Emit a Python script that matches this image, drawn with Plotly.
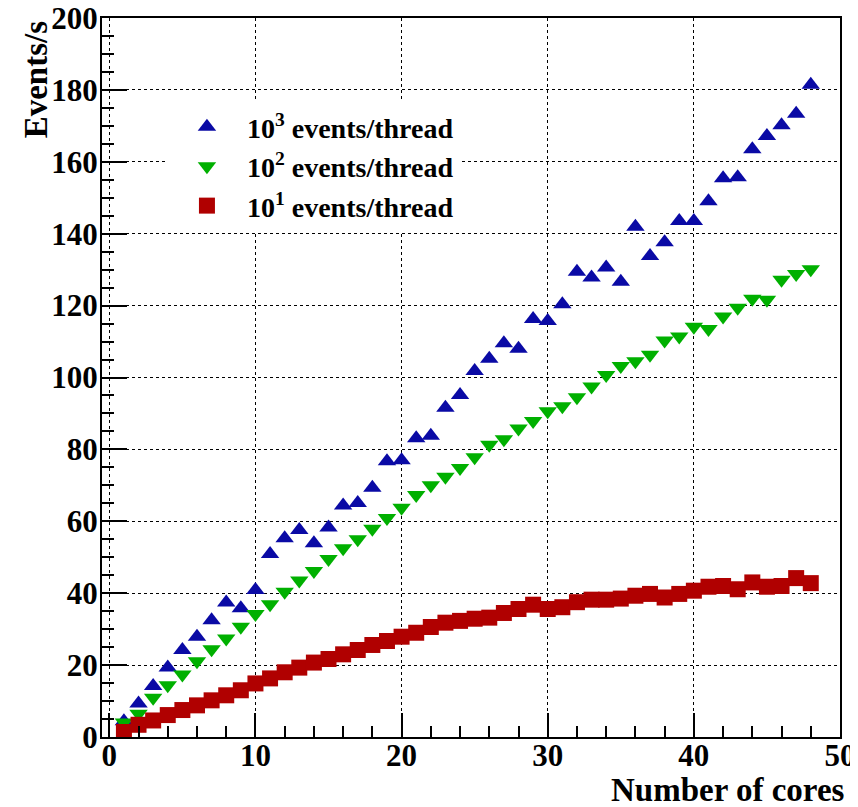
import plotly.graph_objects as go

cores = list(range(1, 49))

ev_1000 = [4.4, 9.3, 14.2, 19.3, 24.2, 27.9, 32.5, 37.4, 35.8, 40.9,
           50.9, 55.3, 57.6, 53.9, 58.3, 64.4, 65.1, 69.3, 76.7, 77.0,
           83.1, 83.8, 91.6, 95.1, 101.8, 105.2, 109.5, 108.0, 116.3, 115.7,
           120.4, 129.4, 127.8, 130.6, 126.6, 141.9, 133.8, 137.6, 143.5, 143.5,
           149.0, 155.4, 155.7, 163.5, 167.2, 170.2, 173.4, 181.4]

ev_100 = [4.0, 6.5, 10.9, 14.4, 17.4, 21.1, 24.4, 27.4, 30.7, 34.2,
          36.9, 40.4, 43.5, 46.2, 49.5, 52.5, 55.0, 57.9, 60.9, 63.8,
          67.3, 70.0, 72.4, 74.8, 77.8, 81.3, 82.8, 85.8, 87.9, 90.6,
          92.0, 94.5, 97.5, 100.7, 103.2, 104.5, 106.3, 110.3, 111.4, 114.1,
          113.5, 117.0, 119.4, 121.9, 121.6, 127.2, 128.8, 130.1]

ev_10 = [1.4, 3.4, 4.6, 6.1, 7.5, 8.8, 10.2, 11.6, 13.0, 14.9,
         16.3, 18.0, 19.3, 20.7, 21.7, 23.0, 24.2, 25.6, 26.7, 27.9,
         29.0, 30.6, 31.8, 32.3, 32.9, 33.2, 34.5, 35.6, 36.8, 35.6,
         36.1, 37.5, 38.2, 38.2, 38.5, 39.3, 39.8, 38.8, 39.8, 40.7,
         41.8, 42.0, 41.1, 43.0, 41.8, 42.0, 44.2, 42.8]

labels = ["10<sup>3</sup> events/thread", "10<sup>2</sup> events/thread", "10<sup>1</sup> events/thread"]
x_ticks = [0, 10, 20, 30, 40, 50]
y_ticks = [0, 20, 40, 60, 80, 100, 120, 140, 160, 180, 200]

FONT = "Liberation Serif"

fig = go.Figure()
fig.add_trace(go.Scatter(x=cores, y=ev_1000, mode="markers", name=labels[0], legendgroup="a",
                         marker=dict(symbol="triangle-up", size=16, color="#0a0aa5")))
fig.add_trace(go.Scatter(x=cores, y=ev_100, mode="markers", name=labels[1], legendgroup="b",
                         marker=dict(symbol="triangle-down", size=16, color="#00b000")))
fig.add_trace(go.Scatter(x=cores, y=ev_10, mode="markers", name=labels[2], legendgroup="c",
                         marker=dict(symbol="square", size=16, color="#b00000")))

axis_common = dict(
    showline=True, linecolor="black", linewidth=2, mirror=True,
    showgrid=True, gridcolor="black", griddash="dot", gridwidth=1,
    ticks="inside", tickcolor="black", tickwidth=1.5,
    zeroline=False, automargin=False, ticklabeloverflow="allow",
    tickfont=dict(family=FONT, size=31, color="black", weight="bold"),
)

fig.update_xaxes(range=[-0.5, 50], tickvals=x_ticks, ticklen=24, ticklabelstandoff=-10,
                 minor=dict(dtick=2, ticks="inside", ticklen=11, tickcolor="black", showgrid=False),
                 **axis_common)
fig.update_yaxes(range=[0, 200], tickvals=y_ticks, ticklen=25, ticklabelstandoff=-4,
                 minor=dict(dtick=5, ticks="inside", ticklen=12, tickcolor="black", showgrid=False),
                 **axis_common)

# the page body adds an 8px margin, so the figure is 8px smaller and margins shifted
fig.update_layout(
    width=850, height=799,
    margin=dict(l=94, r=18, t=10, b=70),
    paper_bgcolor="white", plot_bgcolor="white",
    showlegend=True,
    legend=dict(x=0.088, y=0.883, xanchor="left", yanchor="top",
                bgcolor="white", borderwidth=0, tracegroupgap=0,
                itemwidth=70,
                font=dict(family=FONT, size=28, color="black", weight="bold")),
    annotations=[
        dict(text="Events/s", xref="paper", yref="paper", x=-0.089, y=1.0,
             xanchor="center", yanchor="top", textangle=-90, showarrow=False,
             font=dict(family=FONT, size=33, color="black", weight="bold")),
        dict(text="Number of cores", xref="paper", yref="paper", x=1.0095, y=-0.074,
             xanchor="right", yanchor="middle", showarrow=False,
             font=dict(family=FONT, size=33, color="black", weight="bold")),
    ],
)

fig.write_html("out.html")
